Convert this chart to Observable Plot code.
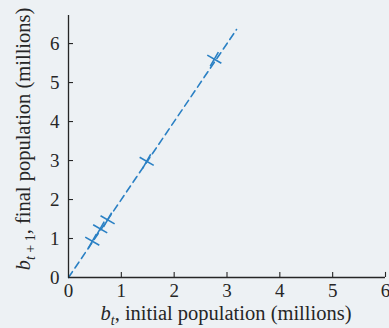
<!DOCTYPE html>
<html>
<head>
<meta charset="utf-8">
<script src="https://cdn.jsdelivr.net/npm/d3@7"></script>
<script src="https://cdn.jsdelivr.net/npm/@observablehq/plot@0.6"></script>
<style>
  html, body { margin: 0; padding: 0; background: #edf1f4; }
  #chart svg { display: block; }
</style>
</head>
<body>
<div id="chart"></div>
<script>
// Data
const xTicks = [0, 1, 2, 3, 4, 5, 6];
const yTicks = [0, 1, 2, 3, 4, 5, 6];
const bt  = [0.45, 0.60, 0.74, 1.48, 2.76];   // initial population (millions)
const bt1 = [0.93, 1.25, 1.48, 2.98, 5.60];   // final population (millions)
const lineX = [0, 3.18];
const lineY = [0, 6.36];

const points = bt.map((x, i) => ({x, y: bt1[i]}));
const line = lineX.map((x, i) => ({x, y: lineY[i]}));

const blue = "#2a80c4";
const ink = "#262626";
const font = "'Liberation Serif', 'DejaVu Serif', serif";

const chart = Plot.plot({
  width: 389,
  height: 328,
  marginLeft: 68,
  marginRight: 4,
  marginTop: 15,
  marginBottom: 51,
  style: { background: "transparent", fontFamily: font, fontSize: "19px", color: ink },
  x: { domain: [0, 6], label: null },
  y: { domain: [0, 6.72], label: null },
  marks: [
    Plot.line(line, { x: "x", y: "y", stroke: blue, strokeWidth: 1.6, strokeDasharray: "7,4.5" }),
    Plot.dot(points, { x: "x", y: "y", symbol: "plus", r: 5.3, stroke: blue, strokeWidth: 1.6, rotate: 30 }),
    Plot.ruleY([0], { stroke: ink, strokeWidth: 1.3 }),
    Plot.ruleX([0], { stroke: ink, strokeWidth: 1.3 }),
    Plot.ruleX(xTicks.slice(1), { x: d => d, y1: 0, y2: 0.13, stroke: ink, strokeWidth: 1.1 }),
    Plot.ruleY(yTicks.slice(1), { y: d => d, x1: 0, x2: 0.095, stroke: ink, strokeWidth: 1.1 }),
    Plot.axisX(xTicks, { tickSize: 0, tickPadding: 6, fontSize: 19, label: null, fill: ink }),
    Plot.axisY(yTicks, { tickSize: 0, tickPadding: 9, fontSize: 19, label: null, fill: ink })
  ]
});

document.getElementById("chart").appendChild(chart);

// Axis titles with italic variables and subscripts
const svg = d3.select(chart);
const xt = svg.append("text")
  .attr("x", 226).attr("y", 320)
  .attr("text-anchor", "middle")
  .attr("font-family", font).attr("font-size", 20.5).attr("fill", ink);
xt.append("tspan").attr("font-style", "italic").text("b");
xt.append("tspan").attr("font-style", "italic").attr("font-size", 14).attr("dy", 5).text("t");
xt.append("tspan").attr("dy", -5).text(", initial population (millions)");

const yt = svg.append("text")
  .attr("transform", "translate(30,139) rotate(-90)")
  .attr("text-anchor", "middle")
  .attr("font-family", font).attr("font-size", 20.5).attr("fill", ink);
yt.append("tspan").attr("font-style", "italic").text("b");
const sub = yt.append("tspan").attr("font-size", 14).attr("dy", 5);
sub.append("tspan").attr("font-style", "italic").text("t");
sub.append("tspan").text(" + 1");
yt.append("tspan").attr("dy", -5).text(", final population (millions)");
</script>
</body>
</html>
